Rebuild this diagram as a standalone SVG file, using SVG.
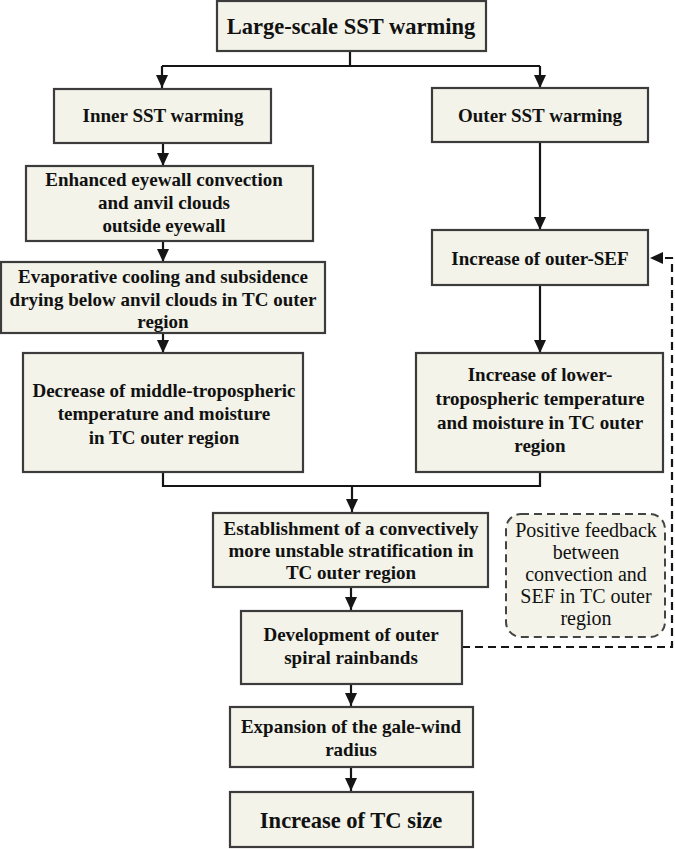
<svg xmlns="http://www.w3.org/2000/svg" width="675" height="849" viewBox="0 0 675 849">
<style>
.box{fill:#f3f3e9;stroke:#3c3c3c;stroke-width:2.2}
.fb{fill:#f3f3e9;stroke:#444;stroke-width:2;stroke-dasharray:8 5}
.t{font-family:"Liberation Serif","Times New Roman",serif;font-weight:bold;font-size:19px;fill:#111;text-anchor:middle}
.big{font-size:22.5px}
.r{font-family:"Liberation Serif","Times New Roman",serif;font-size:20px;fill:#111;text-anchor:middle}
.c{fill:none;stroke:#151515;stroke-width:2.2}
.d{fill:none;stroke:#151515;stroke-width:2.2;stroke-dasharray:8 5}
</style>
<defs>
<marker id="a" viewBox="0 0 13 12" markerWidth="13" markerHeight="12" markerUnits="userSpaceOnUse" refX="13" refY="6" orient="auto">
<path d="M0,0 L13,6 L0,12 z" fill="#151515"/>
</marker>
</defs>
<rect width="675" height="849" fill="#fff"/>
<g id="connectors">
<path class="c" d="M350,51 V66 M162,66 H540"/>
<path class="c" d="M162,66 V88" marker-end="url(#a)"/>
<path class="c" d="M540,66 V88" marker-end="url(#a)"/>
<path class="c" d="M163,143 V166" marker-end="url(#a)"/>
<path class="c" d="M163,241 V262" marker-end="url(#a)"/>
<path class="c" d="M163,333 V353" marker-end="url(#a)"/>
<path class="c" d="M540,142 V230" marker-end="url(#a)"/>
<path class="c" d="M540,285 V353" marker-end="url(#a)"/>
<path class="c" d="M163,472 V486 H540 V472"/>
<path class="c" d="M352,486 V512" marker-end="url(#a)"/>
<path class="c" d="M351,587 V610" marker-end="url(#a)"/>
<path class="c" d="M351,684 V706" marker-end="url(#a)"/>
<path class="c" d="M351,767 V791" marker-end="url(#a)"/>
<path class="d" d="M462,647 H672 V258 H650" marker-end="url(#a)"/>
</g>
<g id="n-large">
<rect class="box" x="217" y="1" width="269" height="50"/>
<text class="t big" x="351" y="34">Large-scale SST warming</text>
</g>
<g id="n-inner">
<rect class="box" x="54" y="89" width="217" height="54"/>
<text class="t" x="163" y="122">Inner SST warming</text>
</g>
<g id="n-outer">
<rect class="box" x="432" y="88" width="216" height="54"/>
<text class="t" x="540" y="122">Outer SST warming</text>
</g>
<g id="n-enhanced">
<rect class="box" x="26" y="166" width="287" height="75"/>
<text class="t" x="164" y="186">Enhanced eyewall convection</text>
<text class="t" x="164" y="209">and anvil clouds</text>
<text class="t" x="164" y="232">outside eyewall</text>
</g>
<g id="n-evap">
<rect class="box" x="1" y="262" width="324" height="71"/>
<text class="t" x="163" y="283">Evaporative cooling and subsidence</text>
<text class="t" x="163" y="306">drying below anvil clouds in TC outer</text>
<text class="t" x="163" y="328">region</text>
</g>
<g id="n-decrease">
<rect class="box" x="23" y="353" width="280" height="119"/>
<text class="t" x="164" y="397">Decrease of middle-tropospheric</text>
<text class="t" x="164" y="420">temperature and moisture</text>
<text class="t" x="164" y="444">in TC outer region</text>
</g>
<g id="n-sef">
<rect class="box" x="432" y="230" width="216" height="55"/>
<text class="t" x="540" y="265">Increase of outer-SEF</text>
</g>
<g id="n-lower">
<rect class="box" x="416" y="353" width="247" height="119"/>
<text class="t" x="540" y="381">Increase of lower-</text>
<text class="t" x="540" y="405">tropospheric temperature</text>
<text class="t" x="540" y="429">and moisture in TC outer</text>
<text class="t" x="540" y="452">region</text>
</g>
<g id="n-establish">
<rect class="box" x="213" y="513" width="275" height="74"/>
<text class="t" x="351" y="535">Establishment of a convectively</text>
<text class="t" x="351" y="557">more unstable stratification in</text>
<text class="t" x="351" y="579">TC outer region</text>
</g>
<g id="n-feedback">
<rect class="fb" x="506" y="514" width="159" height="123" rx="15" ry="15"/>
<text class="r" x="586" y="537">Positive feedback</text>
<text class="r" x="586" y="559">between</text>
<text class="r" x="586" y="581">convection and</text>
<text class="r" x="586" y="603">SEF in TC outer</text>
<text class="r" x="586" y="625">region</text>
</g>
<g id="n-develop">
<rect class="box" x="241" y="611" width="221" height="73"/>
<text class="t" x="351" y="641">Development of outer</text>
<text class="t" x="351" y="664">spiral rainbands</text>
</g>
<g id="n-expansion">
<rect class="box" x="230" y="707" width="243" height="60"/>
<text class="t" x="351" y="733">Expansion of the gale-wind</text>
<text class="t" x="351" y="756">radius</text>
</g>
<g id="n-size">
<rect class="box" x="230" y="792" width="243" height="55"/>
<text class="t big" x="351" y="828">Increase of TC size</text>
</g>
</svg>
